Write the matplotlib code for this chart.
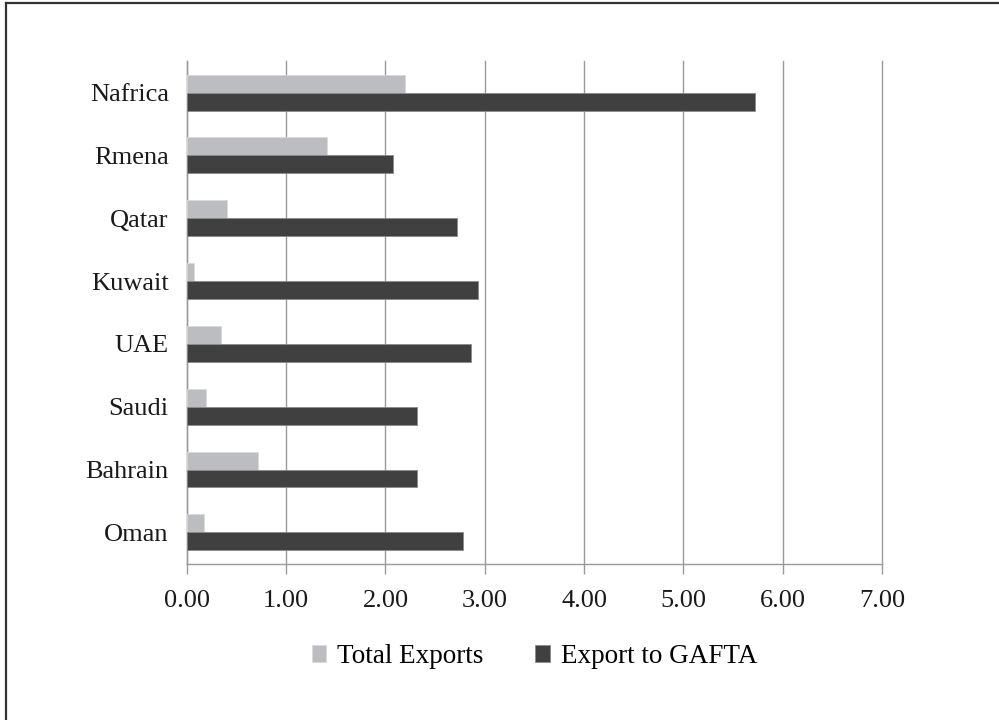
import matplotlib
matplotlib.use("Agg")
import matplotlib.pyplot as plt
from matplotlib.lines import Line2D
import numpy as np

categories = ["Oman", "Bahrain", "Saudi", "UAE", "Kuwait", "Qatar", "Rmena", "Nafrica"]
total_exports = [0.17, 0.72, 0.19, 0.34, 0.07, 0.40, 1.41, 2.20]
export_gafta = [2.78, 2.32, 2.32, 2.86, 2.93, 2.72, 2.08, 5.72]
xticks = [0, 1, 2, 3, 4, 5, 6, 7]
xtick_labels = ["0.00", "1.00", "2.00", "3.00", "4.00", "5.00", "6.00", "7.00"]

plt.rcParams['font.family'] = ['Liberation Serif', 'DejaVu Serif']

fig = plt.figure(figsize=(9.99, 7.20), dpi=100)
ax = fig.add_axes([0.187, 0.217, 0.696, 0.698])

light = "#BCBDC1"
dark = "#404040"
h = 0.286
y = np.arange(len(categories))
ax.barh(y + h / 2, total_exports, height=h, color=light, edgecolor="#DADADA", linewidth=0.6, zorder=3,
        label="Total Exports")
ax.barh(y - h / 2, export_gafta, height=h, color=dark, edgecolor="#8A8A8A", linewidth=0.6, zorder=3,
        label="Export to GAFTA")

ax.set_xlim(0, 7)
ax.set_ylim(-0.5, len(categories) - 0.5)
ax.set_xticks(xticks)
ax.set_xticklabels(xtick_labels, fontsize=19, color="#1a1a1a")
ax.set_yticks(y)
ax.set_yticklabels(categories, fontsize=19, color="#1a1a1a")
ax.tick_params(axis='y', length=0, pad=13)
ax.tick_params(axis='x', length=7, width=1, color="#9A9A9A", pad=12)

ax.grid(False)
for xv in xticks:
    ax.axvline(xv, color="#9A9A9A", linewidth=1, zorder=0, clip_on=False)
for s in ["top", "right"]:
    ax.spines[s].set_visible(False)
ax.spines["left"].set_color("#9A9A9A")
ax.spines["bottom"].set_color("#9A9A9A")
ax.spines["left"].set_linewidth(1)
ax.spines["bottom"].set_linewidth(1)

ax.legend(loc="center", bbox_to_anchor=(0.5, -0.185), bbox_transform=ax.transAxes,
          ncol=2, frameon=False, fontsize=19.5, handlelength=0.55, handleheight=0.55,
          handletextpad=0.4, columnspacing=1.9)

# outer frame lines (top and left only)
fig.add_artist(Line2D([6 / 999, 1], [1 - 3 / 720, 1 - 3 / 720], transform=fig.transFigure,
                      color="#333333", linewidth=1.6))
fig.add_artist(Line2D([6 / 999, 6 / 999], [0, 1 - 3 / 720], transform=fig.transFigure,
                      color="#333333", linewidth=1.6))

fig.savefig("out.png", dpi=100)
